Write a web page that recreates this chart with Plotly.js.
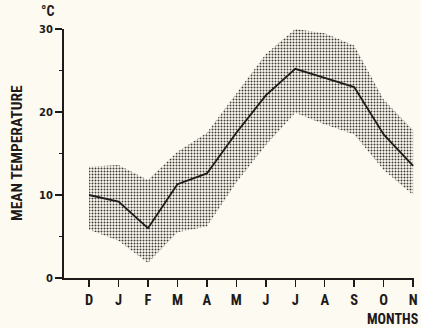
<!DOCTYPE html>
<html>
<head>
<meta charset="utf-8">
<script src="https://cdn.plot.ly/plotly-3.0.1.min.js"></script>
<style>html,body{margin:0;padding:0;background:#fdfbf1;}#chart{width:421px;height:328px;}</style>
</head>
<body>
<div id="chart"></div>
<script>
const months = ["D","J","F","M","A","M","J","J","A","S","O","N"];
const meanTemp = [10.0, 9.2, 6.0, 11.3, 12.6, 17.5, 22.0, 25.2, 24.1, 23.0, 17.3, 13.5];
const upperTemp = [13.4, 13.6, 11.8, 15.2, 17.5, 22.2, 27.0, 30.0, 29.5, 28.0, 21.5, 17.8];
const lowerTemp = [5.8, 4.5, 1.8, 5.5, 6.2, 11.5, 16.0, 19.9, 18.5, 17.3, 13.0, 10.0];
const yTickVals = [0, 10, 20, 30];

const xIdx = months.map((m, i) => i);
const COND = "Roboto Condensed, Open Sans Condensed, DejaVu Sans Condensed, sans-serif";
const NUM = "DejaVu Sans, sans-serif";
const INK = "#1e1a1a";

const traces = [
  {x: xIdx, y: lowerTemp, type: "scatter", mode: "lines", line: {width: 0, color: "rgba(0,0,0,0)"}, hoverinfo: "skip", showlegend: false},
  {x: xIdx, y: upperTemp, type: "scatter", mode: "lines", line: {width: 0, color: "rgba(0,0,0,0)"}, fill: "tonexty",
   fillcolor: "rgba(0,0,0,0)",
   fillpattern: {shape: ".", size: 3, solidity: 0.35, fgcolor: "#3e3a3a", bgcolor: "rgba(0,0,0,0)"},
   hoverinfo: "skip", showlegend: false},
  {x: xIdx, y: meanTemp, type: "scatter", mode: "lines", line: {width: 1.8, color: INK}, showlegend: false}
];

const layout = {
  width: 421, height: 328,
  paper_bgcolor: "#fdfbf1", plot_bgcolor: "#fdfbf1",
  margin: {l: 64, r: 7, t: 29, b: 50},
  font: {family: COND, size: 14.5, color: INK, weight: "bold"},
  xaxis: {
    range: [-0.85, 11.03], tickvals: xIdx, ticktext: months,
    showgrid: false, zeroline: false, showline: true, linecolor: INK, linewidth: 2,
    ticks: "outside", ticklen: 7, tickwidth: 1.5, tickcolor: INK,
    tickfont: {family: COND, size: 14.5, color: INK, weight: "bold"}, ticklabelstandoff: 1
  },
  yaxis: {
    range: [0, 30], tickvals: yTickVals, ticktext: yTickVals.map(String),
    showgrid: false, zeroline: false, showline: true, linecolor: INK, linewidth: 2,
    ticks: "outside", ticklen: 7, tickwidth: 1.5, tickcolor: INK,
    minor: {dtick: 5, tick0: 0, ticks: "outside", ticklen: 3, tickwidth: 1.5, tickcolor: INK},
    tickfont: {family: NUM, size: 10, color: INK, weight: "bold"}, ticklabelstandoff: 0
  },
  annotations: [
    {text: "MEAN TEMPERATURE", xref: "paper", yref: "paper", x: -0.134, y: 0.502, xanchor: "center", yanchor: "middle",
     textangle: -90, showarrow: false, font: {family: COND, size: 15.5, color: INK, weight: "bold"}},
    {text: "°C", xref: "paper", yref: "paper", x: -0.047, y: 1.0, xanchor: "center", yanchor: "middle", yshift: 18,
     showarrow: false, font: {family: COND, size: 14, color: INK, weight: "bold"}},
    {text: "MONTHS", xref: "paper", yref: "paper", x: 1.02, y: 0, xanchor: "right", yanchor: "middle", yshift: -41,
     showarrow: false, font: {family: COND, size: 14, color: INK, weight: "bold"}}
  ]
};

Plotly.newPlot("chart", traces, layout, {displayModeBar: false, staticPlot: true});
</script>
</body>
</html>
